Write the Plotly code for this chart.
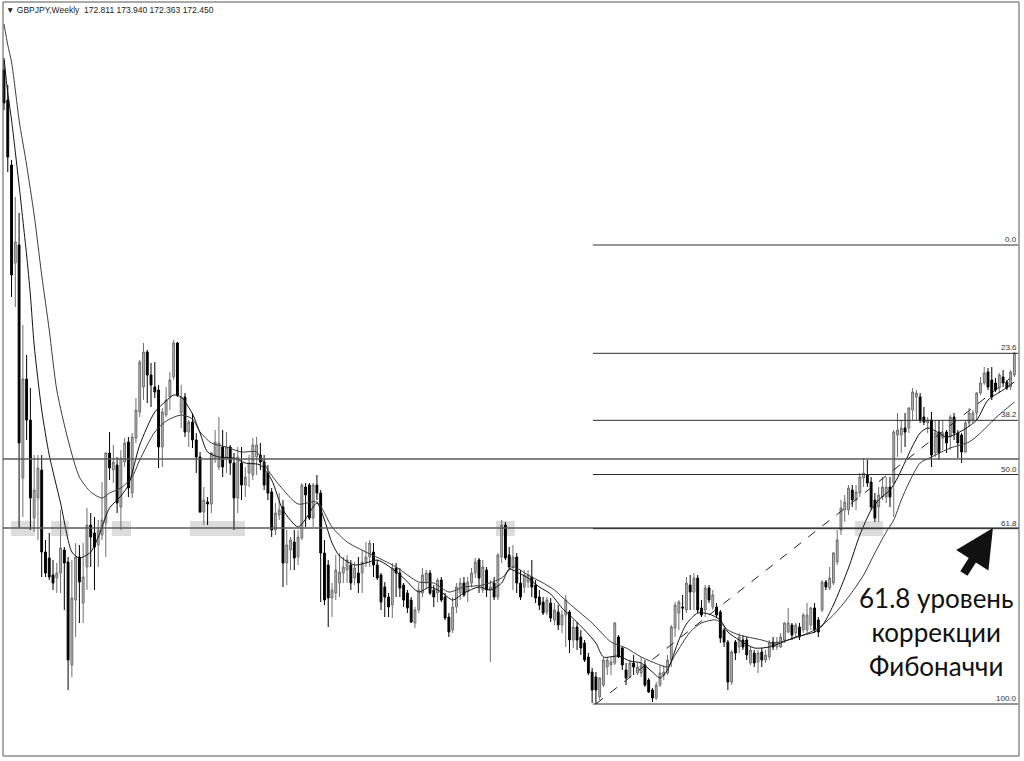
import plotly.graph_objects as go

# ---------------- data (weekly candles) ----------------
bars = list(range(269))

opens = [
    180.0, 177.0, 170.5, 160.7, 162.5, 139.2, 149.1, 145.0, 135.2, 137.2,
    140.0, 131.8, 131.2, 129.5, 129.2, 129.7, 132.0, 130.8, 120.5, 127.0,
    131.3, 126.7, 130.3, 134.5, 133.7, 132.5, 133.5, 134.7, 141.7, 140.0,
    140.5, 136.3, 140.8, 142.8, 137.7, 143.2, 145.8, 148.3, 151.8, 149.5,
    148.3, 148.0, 142.3, 145.5, 147.3, 149.3, 152.7, 145.7, 147.3, 143.8,
    144.8, 143.0, 141.3, 135.8, 136.8, 136.6, 141.2, 140.3, 142.3, 141.3,
    142.3, 140.7, 137.2, 140.7, 138.5, 139.7, 139.5, 141.3, 141.5, 140.8,
    139.7, 137.8, 134.0, 135.5, 136.3, 130.7, 132.0, 132.8, 131.3, 133.2,
    138.3, 138.5, 135.2, 138.5, 137.7, 131.7, 130.5, 127.2, 127.7, 128.7,
    129.7, 130.0, 130.5, 129.2, 129.7, 129.7, 130.8, 131.3, 131.8, 130.5,
    129.5, 128.3, 127.3, 126.5, 130.2, 129.7, 128.5, 127.7, 127.0, 124.7,
    126.0, 127.7, 128.7, 129.7, 128.0, 127.7, 129.0, 127.3, 125.3, 124.0,
    126.3, 127.7, 128.7, 127.8, 128.7, 129.7, 131.0, 128.0, 130.0, 128.0,
    128.7, 127.3, 131.3, 134.5, 131.5, 130.3, 131.3, 128.7, 128.3, 128.8,
    129.3, 128.5, 127.3, 126.8, 125.8, 126.7, 125.0, 125.8, 124.5, 125.5,
    125.8, 123.0, 124.3, 123.3, 122.7, 121.3, 119.8, 119.3, 117.3, 118.5,
    120.3, 120.5, 120.7, 123.3, 122.2, 120.0, 119.3, 120.7, 119.7, 119.7,
    120.5, 119.0, 118.0, 117.2, 118.5, 119.5, 119.7, 121.0, 124.2, 125.7,
    126.3, 126.0, 128.5, 127.8, 129.2, 126.2, 126.0, 128.2, 126.3, 126.3,
    125.8, 124.0, 122.8, 118.8, 122.8, 122.3, 123.0, 123.0, 120.7, 121.7,
    120.8, 121.8, 121.0, 121.3, 122.8, 122.3, 122.3, 123.0, 123.8, 124.5,
    123.7, 124.3, 124.0, 124.0, 124.5, 126.2, 125.0, 126.0, 128.8, 128.2,
    128.7, 130.8, 134.0, 136.0, 136.0, 138.0, 137.0, 137.7, 139.2, 139.5,
    138.8, 137.0, 136.3, 137.3, 137.3, 138.3, 138.7, 143.5, 143.5, 144.2,
    144.2, 146.0, 147.3, 147.3, 145.3, 144.7, 145.0, 141.7, 143.8, 143.2,
    143.8, 143.3, 145.3, 143.7, 143.5, 141.8, 144.7, 145.0, 145.7, 147.7,
    148.7, 149.8, 149.0, 148.7, 148.2, 149.3, 148.8, 148.3, 149.5,
]
highs = [
    181.0, 178.5, 171.0, 167.3, 165.7, 154.5, 151.5, 148.2, 141.5, 141.5,
    141.5, 133.0, 133.7, 131.0, 130.7, 136.0, 132.3, 131.3, 131.0, 132.7,
    132.5, 132.7, 136.2, 135.7, 135.3, 135.0, 138.8, 141.8, 143.8, 142.5,
    141.3, 142.0, 143.2, 143.3, 143.7, 147.2, 151.0, 152.7, 152.0, 150.7,
    150.8, 148.5, 146.2, 148.3, 149.8, 153.0, 152.8, 148.5, 147.7, 145.0,
    145.7, 143.7, 141.8, 138.3, 137.3, 141.8, 144.0, 145.3, 144.0, 143.8,
    142.5, 141.7, 142.3, 142.3, 140.3, 141.5, 143.2, 143.3, 142.7, 141.5,
    140.5, 138.2, 136.7, 137.7, 137.0, 134.0, 133.3, 134.0, 134.0, 138.7,
    138.7, 138.7, 138.7, 139.5, 138.0, 133.0, 131.0, 128.7, 131.5, 131.7,
    131.3, 131.5, 131.0, 130.8, 131.3, 132.0, 132.8, 133.0, 132.7, 131.0,
    129.7, 128.8, 127.7, 130.7, 130.7, 130.2, 128.7, 128.0, 127.3, 126.3,
    128.7, 130.2, 130.0, 130.0, 128.5, 129.2, 129.3, 127.7, 125.7, 127.3,
    128.7, 129.2, 129.3, 129.3, 130.2, 131.2, 131.2, 131.0, 130.3, 129.0,
    129.3, 131.7, 135.0, 134.8, 132.3, 132.5, 131.7, 130.0, 130.0, 130.0,
    131.0, 129.0, 128.0, 127.3, 127.3, 127.2, 126.7, 126.5, 126.0, 127.5,
    126.0, 125.0, 124.8, 124.0, 123.0, 121.7, 120.2, 119.8, 119.3, 121.3,
    121.3, 121.3, 124.8, 123.5, 122.3, 120.7, 121.0, 121.5, 120.7, 121.3,
    121.0, 119.2, 118.2, 118.8, 120.5, 120.5, 121.5, 124.5, 126.8, 127.0,
    127.5, 129.3, 129.5, 129.7, 129.5, 127.0, 128.5, 128.5, 128.0, 126.7,
    126.0, 124.2, 123.0, 122.0, 123.0, 123.7, 123.5, 123.3, 122.3, 122.0,
    122.0, 122.2, 122.0, 123.0, 123.3, 123.3, 123.7, 124.8, 126.2, 124.7,
    124.7, 124.7, 125.7, 126.7, 126.3, 126.7, 125.3, 129.0, 129.0, 130.3,
    131.8, 134.0, 137.0, 137.5, 138.5, 138.5, 138.5, 139.7, 141.2, 141.0,
    139.3, 137.7, 138.3, 139.3, 139.3, 139.3, 144.0, 145.7, 145.0, 145.7,
    146.3, 148.2, 148.0, 147.7, 146.3, 145.3, 145.8, 145.0, 145.0, 145.0,
    144.0, 145.5, 145.7, 144.0, 143.7, 145.0, 146.2, 146.0, 147.8, 149.3,
    150.3, 150.2, 150.3, 149.2, 149.7, 150.0, 149.0, 150.0, 151.8,
]
lows = [
    176.0, 169.8, 157.3, 156.3, 134.2, 135.3, 143.0, 134.0, 133.8, 133.0,
    129.3, 129.3, 129.0, 128.0, 127.7, 127.7, 126.0, 118.0, 119.3, 123.3,
    124.7, 124.7, 128.0, 130.3, 128.0, 130.3, 133.0, 131.3, 139.0, 138.7,
    135.7, 134.0, 140.3, 137.3, 137.2, 142.7, 145.3, 147.0, 146.7, 146.3,
    147.2, 140.2, 140.3, 145.3, 146.0, 149.0, 147.3, 144.2, 143.3, 142.3,
    142.2, 139.7, 135.7, 134.5, 134.5, 135.7, 140.7, 140.0, 139.3, 139.7,
    139.5, 134.0, 135.7, 137.0, 137.3, 138.3, 139.0, 139.5, 140.0, 138.0,
    137.0, 133.3, 133.5, 135.0, 128.3, 128.5, 130.0, 130.0, 130.5, 133.0,
    134.3, 135.0, 134.3, 137.0, 126.8, 126.5, 124.3, 125.3, 127.0, 127.3,
    128.7, 128.7, 128.0, 128.5, 127.7, 127.7, 130.3, 130.3, 129.3, 129.0,
    126.0, 125.3, 125.3, 125.2, 127.3, 127.3, 126.3, 125.7, 124.7, 124.2,
    125.7, 127.3, 128.2, 127.5, 126.3, 126.8, 126.8, 125.0, 123.3, 123.7,
    125.7, 127.0, 127.3, 126.8, 128.3, 129.2, 127.7, 127.7, 127.3, 120.8,
    127.0, 127.0, 130.7, 131.0, 130.0, 128.0, 127.7, 127.0, 127.7, 128.2,
    127.3, 126.7, 126.0, 125.5, 125.5, 124.8, 124.5, 124.0, 123.7, 122.3,
    121.7, 122.2, 122.0, 121.5, 120.8, 119.5, 116.7, 116.6, 117.0, 118.3,
    119.5, 119.5, 120.5, 121.2, 120.0, 118.5, 119.2, 119.5, 119.5, 119.3,
    118.3, 117.7, 116.8, 117.0, 118.3, 119.0, 119.5, 120.3, 123.3, 124.0,
    125.0, 125.7, 126.0, 126.0, 125.7, 125.3, 125.3, 126.7, 126.0, 125.3,
    122.7, 122.3, 118.0, 118.5, 121.0, 121.7, 122.0, 121.0, 120.5, 120.3,
    119.7, 120.3, 120.7, 121.0, 122.0, 122.0, 122.2, 122.7, 123.7, 123.0,
    123.3, 123.0, 123.7, 123.7, 124.0, 123.7, 123.3, 125.8, 128.0, 128.0,
    128.5, 130.5, 133.5, 134.8, 135.5, 136.3, 136.0, 137.3, 138.3, 138.3,
    136.0, 134.8, 134.8, 137.0, 136.7, 136.3, 135.3, 141.3, 141.7, 142.3,
    143.7, 145.0, 145.0, 144.7, 144.5, 143.7, 140.3, 141.3, 141.0, 142.0,
    141.7, 142.0, 143.0, 141.2, 140.7, 141.7, 144.3, 144.7, 145.0, 147.5,
    148.5, 148.0, 147.0, 147.8, 147.7, 148.3, 148.0, 148.0, 149.3,
]
closes = [
    176.7, 171.3, 159.5, 162.8, 142.7, 149.1, 145.0, 137.2, 138.0, 140.2,
    131.8, 129.7, 129.3, 128.7, 129.7, 132.2, 130.7, 121.0, 127.2, 131.3,
    128.8, 129.3, 134.5, 133.3, 132.3, 134.0, 135.0, 141.7, 140.2, 140.8,
    136.7, 141.2, 142.7, 138.2, 143.3, 146.0, 150.8, 151.8, 149.5, 148.5,
    147.8, 142.3, 145.8, 147.0, 149.0, 152.7, 147.5, 147.3, 143.8, 144.8,
    143.0, 141.3, 135.8, 137.0, 136.6, 141.7, 142.8, 142.7, 140.3, 142.3,
    140.7, 137.2, 141.3, 138.5, 139.3, 140.7, 142.5, 142.5, 140.8, 138.5,
    137.7, 134.0, 135.7, 136.0, 130.7, 132.5, 133.0, 131.2, 133.3, 138.5,
    137.5, 135.2, 138.5, 137.7, 131.7, 127.0, 127.2, 128.0, 130.0, 129.8,
    130.3, 131.0, 128.7, 130.2, 128.7, 130.8, 131.3, 132.7, 130.5, 129.2,
    126.8, 127.3, 126.3, 130.2, 129.7, 128.2, 127.0, 126.2, 124.8, 126.0,
    128.0, 129.5, 129.7, 127.7, 127.3, 129.0, 127.0, 125.2, 123.8, 126.3,
    128.3, 128.7, 127.5, 128.8, 129.7, 130.8, 129.2, 130.3, 128.0, 128.3,
    127.3, 131.5, 134.5, 131.2, 130.3, 131.3, 128.7, 127.3, 129.5, 129.5,
    128.3, 127.2, 126.5, 125.7, 127.0, 125.2, 126.0, 124.5, 125.5, 127.0,
    123.0, 124.3, 123.0, 122.2, 121.0, 119.7, 118.0, 118.0, 119.2, 121.0,
    121.0, 120.8, 124.7, 121.3, 120.5, 119.2, 120.7, 120.3, 120.3, 120.5,
    118.5, 117.8, 117.2, 118.5, 119.7, 119.8, 121.0, 124.3, 126.5, 126.8,
    126.2, 128.7, 127.8, 129.2, 126.0, 125.5, 128.2, 127.0, 127.5, 125.5,
    123.2, 122.8, 118.8, 121.8, 121.7, 123.3, 122.3, 121.5, 122.0, 120.7,
    121.7, 121.0, 121.5, 122.7, 122.3, 122.8, 123.3, 124.7, 124.7, 123.5,
    124.5, 123.3, 125.5, 125.5, 126.2, 124.0, 123.8, 128.8, 128.3, 129.2,
    131.7, 133.0, 136.2, 136.8, 138.2, 137.0, 137.8, 139.3, 139.7, 138.7,
    136.3, 135.2, 137.5, 138.3, 138.3, 137.3, 143.8, 144.0, 144.2, 143.8,
    146.2, 147.8, 147.7, 145.0, 144.8, 145.0, 141.5, 143.7, 141.7, 143.7,
    142.7, 145.3, 143.7, 142.7, 141.8, 144.7, 145.7, 145.7, 147.7, 148.7,
    149.7, 148.3, 147.3, 148.0, 149.5, 148.7, 148.2, 149.8, 151.7,
]

# moving averages (bar index, value)
ma_fast_bars = [0, 1, 2, 4, 5, 6, 7, 8, 10, 12, 15, 18, 20, 23, 25, 28, 31, 33, 36, 40,
                43, 45, 47, 50, 52, 54, 57, 61, 64, 68, 71, 74, 78, 80, 83, 85, 87, 89, 93, 96,
                99, 102, 106, 110, 113, 116, 119, 122, 126, 129, 132, 134, 136, 139, 142, 145,
                148, 150, 154, 157, 159, 163, 166, 169, 172, 174, 176, 179, 181, 184, 187, 190,
                192, 195, 199, 203, 206, 210, 215, 217, 220, 224, 227, 230, 232, 235, 237, 239,
                241, 243, 245, 247, 250, 254, 258, 261, 265, 268]
ma_fast = [181.2, 177.7, 175.0, 168.5, 165.0, 161.5, 157.5, 152.5, 146.0, 141.5, 136.7, 131.8,
           131.2, 131.8, 133.3, 136.2, 137.4, 138.5, 142.5, 145.8, 146.9, 147.5, 147.3, 145.6,
           143.7, 141.8, 141.3, 141.2, 140.7, 140.5, 139.0, 136.0, 134.3, 135.1, 136.7, 135.0,
           132.7, 131.4, 130.5, 130.7, 131.0, 130.4, 129.2, 127.8, 128.3, 127.8, 127.0, 127.7,
           128.3, 128.0, 128.7, 130.1, 129.8, 129.2, 128.3, 127.6, 126.2, 125.5, 124.0, 122.7,
           121.3, 121.4, 120.9, 120.7, 119.8, 119.2, 120.0, 123.0, 124.6, 125.7, 125.6, 125.0,
           123.8, 123.0, 122.2, 122.3, 122.7, 123.3, 123.8, 124.4, 126.5, 130.2, 133.5, 136.0,
           137.0, 138.0, 139.2, 140.8, 142.4, 143.7, 144.2, 143.9, 143.3, 143.9, 145.0, 147.0,
           148.0, 148.8]
ma_slow_bars = [0, 1, 2, 3, 4, 6, 8, 10, 12, 14, 17, 20, 23, 26, 28, 31, 34, 36, 40, 43,
                47, 50, 52, 55, 59, 63, 67, 70, 73, 78, 83, 87, 91, 96, 101, 104, 110, 114, 118,
                122, 127, 132, 135, 139, 143, 146, 148, 151, 156, 161, 165, 169, 174, 176, 178,
                182, 185, 189, 192, 195, 201, 204, 208, 212, 216, 220, 224, 228, 231, 234, 236,
                238, 240, 243, 246, 251, 256, 259, 263, 268]
ma_slow = [184.6, 182.5, 180.8, 178.0, 175.0, 170.5, 165.5, 159.5, 154.0, 148.0, 143.0, 139.3,
           137.8, 137.2, 137.7, 138.2, 139.3, 141.0, 143.8, 144.9, 145.5, 145.1, 143.8, 142.7,
           142.3, 141.8, 141.8, 140.0, 138.5, 136.6, 136.8, 134.3, 132.8, 131.8, 130.9, 130.3,
           128.8, 128.7, 127.8, 128.3, 128.5, 129.2, 130.3, 129.5, 128.7, 128.0, 127.3, 126.3,
           124.7, 122.8, 122.2, 121.3, 120.5, 120.3, 121.5, 123.8, 124.7, 125.0, 124.0, 123.5,
           123.0, 122.7, 123.0, 123.5, 124.2, 125.5, 127.3, 129.5, 131.7, 133.8, 135.0, 137.0,
           138.7, 140.7, 141.3, 142.2, 142.8, 143.7, 145.2, 146.8]

# Fibonacci retracement
fib_levels = [0.0, 23.6, 38.2, 50.0, 61.8, 100.0]
fib_high = 162.5
fib_low = 116.6
fib_start_bar = 156.2
fib_end_bar = 269.0
trend_bars = [157, 267]
trend_prices = [116.6, 149.2]

# horizontal support / resistance levels
hlines = [141.1, 134.2]

# highlighted touch zones (bar ranges) around the 61.8 level
zones = [(1.9, 8.2), (12.5, 17.2), (28.6, 33.7), (49.3, 63.9), (130.5, 135.5), (225.7, 233.2)]
zone_low, zone_high = 133.4, 134.9

header = "▼ GBPJPY,Weekly  172.811 173.940 172.363 172.450"
note = "61.8 уровень<br>коррекции<br>Фибоначчи"
arrow_bar, arrow_price = 262.3, 134.2

# ---------------- figure ----------------
fig = go.Figure()

fig.add_trace(go.Candlestick(
    x=bars, open=opens, high=highs, low=lows, close=closes,
    increasing=dict(line=dict(color="#6f6f6f", width=1), fillcolor="#b9b9b9"),
    decreasing=dict(line=dict(color="#000000", width=1), fillcolor="#000000"),
    whiskerwidth=0, hoverinfo="skip", showlegend=False,
))
fig.add_trace(go.Scatter(x=ma_slow_bars, y=ma_slow, mode="lines",
                         line=dict(color="#3c3c3c", width=1, shape="spline", smoothing=0.7),
                         hoverinfo="skip", showlegend=False))
fig.add_trace(go.Scatter(x=ma_fast_bars, y=ma_fast, mode="lines",
                         line=dict(color="#111111", width=1, shape="spline", smoothing=0.7),
                         hoverinfo="skip", showlegend=False))

shapes = []
for a, b in zones:
    shapes.append(dict(type="rect", xref="x", yref="y", x0=a, x1=b, y0=zone_low, y1=zone_high,
                       fillcolor="#dcdcdc", line=dict(width=0), layer="below"))
for h in hlines:
    shapes.append(dict(type="line", xref="paper", yref="y", x0=3 / 1024, x1=1019 / 1024, y0=h, y1=h,
                       line=dict(color="#5a5a5a", width=1.5)))
for lv in fib_levels:
    p = fib_high - lv / 100 * (fib_high - fib_low)
    shapes.append(dict(type="line", xref="x", yref="y", x0=fib_start_bar, x1=fib_end_bar, y0=p, y1=p,
                       line=dict(color="#2e2e2e", width=1)))
shapes.append(dict(type="line", xref="x", yref="y", x0=trend_bars[0], x1=trend_bars[1],
                   y0=trend_prices[0], y1=trend_prices[1],
                   line=dict(color="#222222", width=1, dash="dash")))
shapes.append(dict(type="rect", xref="paper", yref="paper", x0=3 / 1024, x1=1019 / 1024,
                   y0=1 - 756 / 761, y1=1 - 2 / 761, line=dict(color="#555555", width=1)))

annotations = [
    dict(xref="paper", yref="paper", x=4 / 1024, y=1 - 10 / 761, text=header, showarrow=False,
         xanchor="left", yanchor="middle",
         font=dict(family="Liberation Sans, Arial, sans-serif", size=8.5, color="#222222")),
]
for lv in fib_levels:
    p = fib_high - lv / 100 * (fib_high - fib_low)
    annotations.append(dict(x=fib_end_bar, y=p, xref="x", yref="y", text=f"{lv:.1f}", showarrow=False,
                            xanchor="right", yanchor="bottom", borderpad=0,
                            font=dict(family="Liberation Sans, Arial, sans-serif", size=8, color="#333333")))
annotations.append(dict(x=arrow_bar, y=arrow_price, xref="x", yref="y", text="", showarrow=True,
                        ax=-30, ay=47, arrowhead=2, arrowsize=0.9, arrowwidth=8.5,
                        arrowcolor="#111111", standoff=0))
annotations.append(dict(x=247.2, y=123.8, xref="x", yref="y", text=note, showarrow=False,
                        xanchor="center", yanchor="middle", align="center",
                        font=dict(family="Lato, Open Sans, sans-serif", size=26, color="#111111")))

fig.update_layout(
    width=1024, height=761, margin=dict(l=0, r=0, t=0, b=0),
    paper_bgcolor="white", plot_bgcolor="white",
    xaxis=dict(range=[-1.061, 270.55], visible=False, rangeslider=dict(visible=False), fixedrange=True),
    yaxis=dict(range=[110.9, 187.0], visible=False, fixedrange=True),
    shapes=shapes, annotations=annotations, showlegend=False,
)

fig.write_html("out.html", config={"displayModeBar": False},
               post_script="document.body.style.margin='0';document.body.style.overflow='hidden';")
